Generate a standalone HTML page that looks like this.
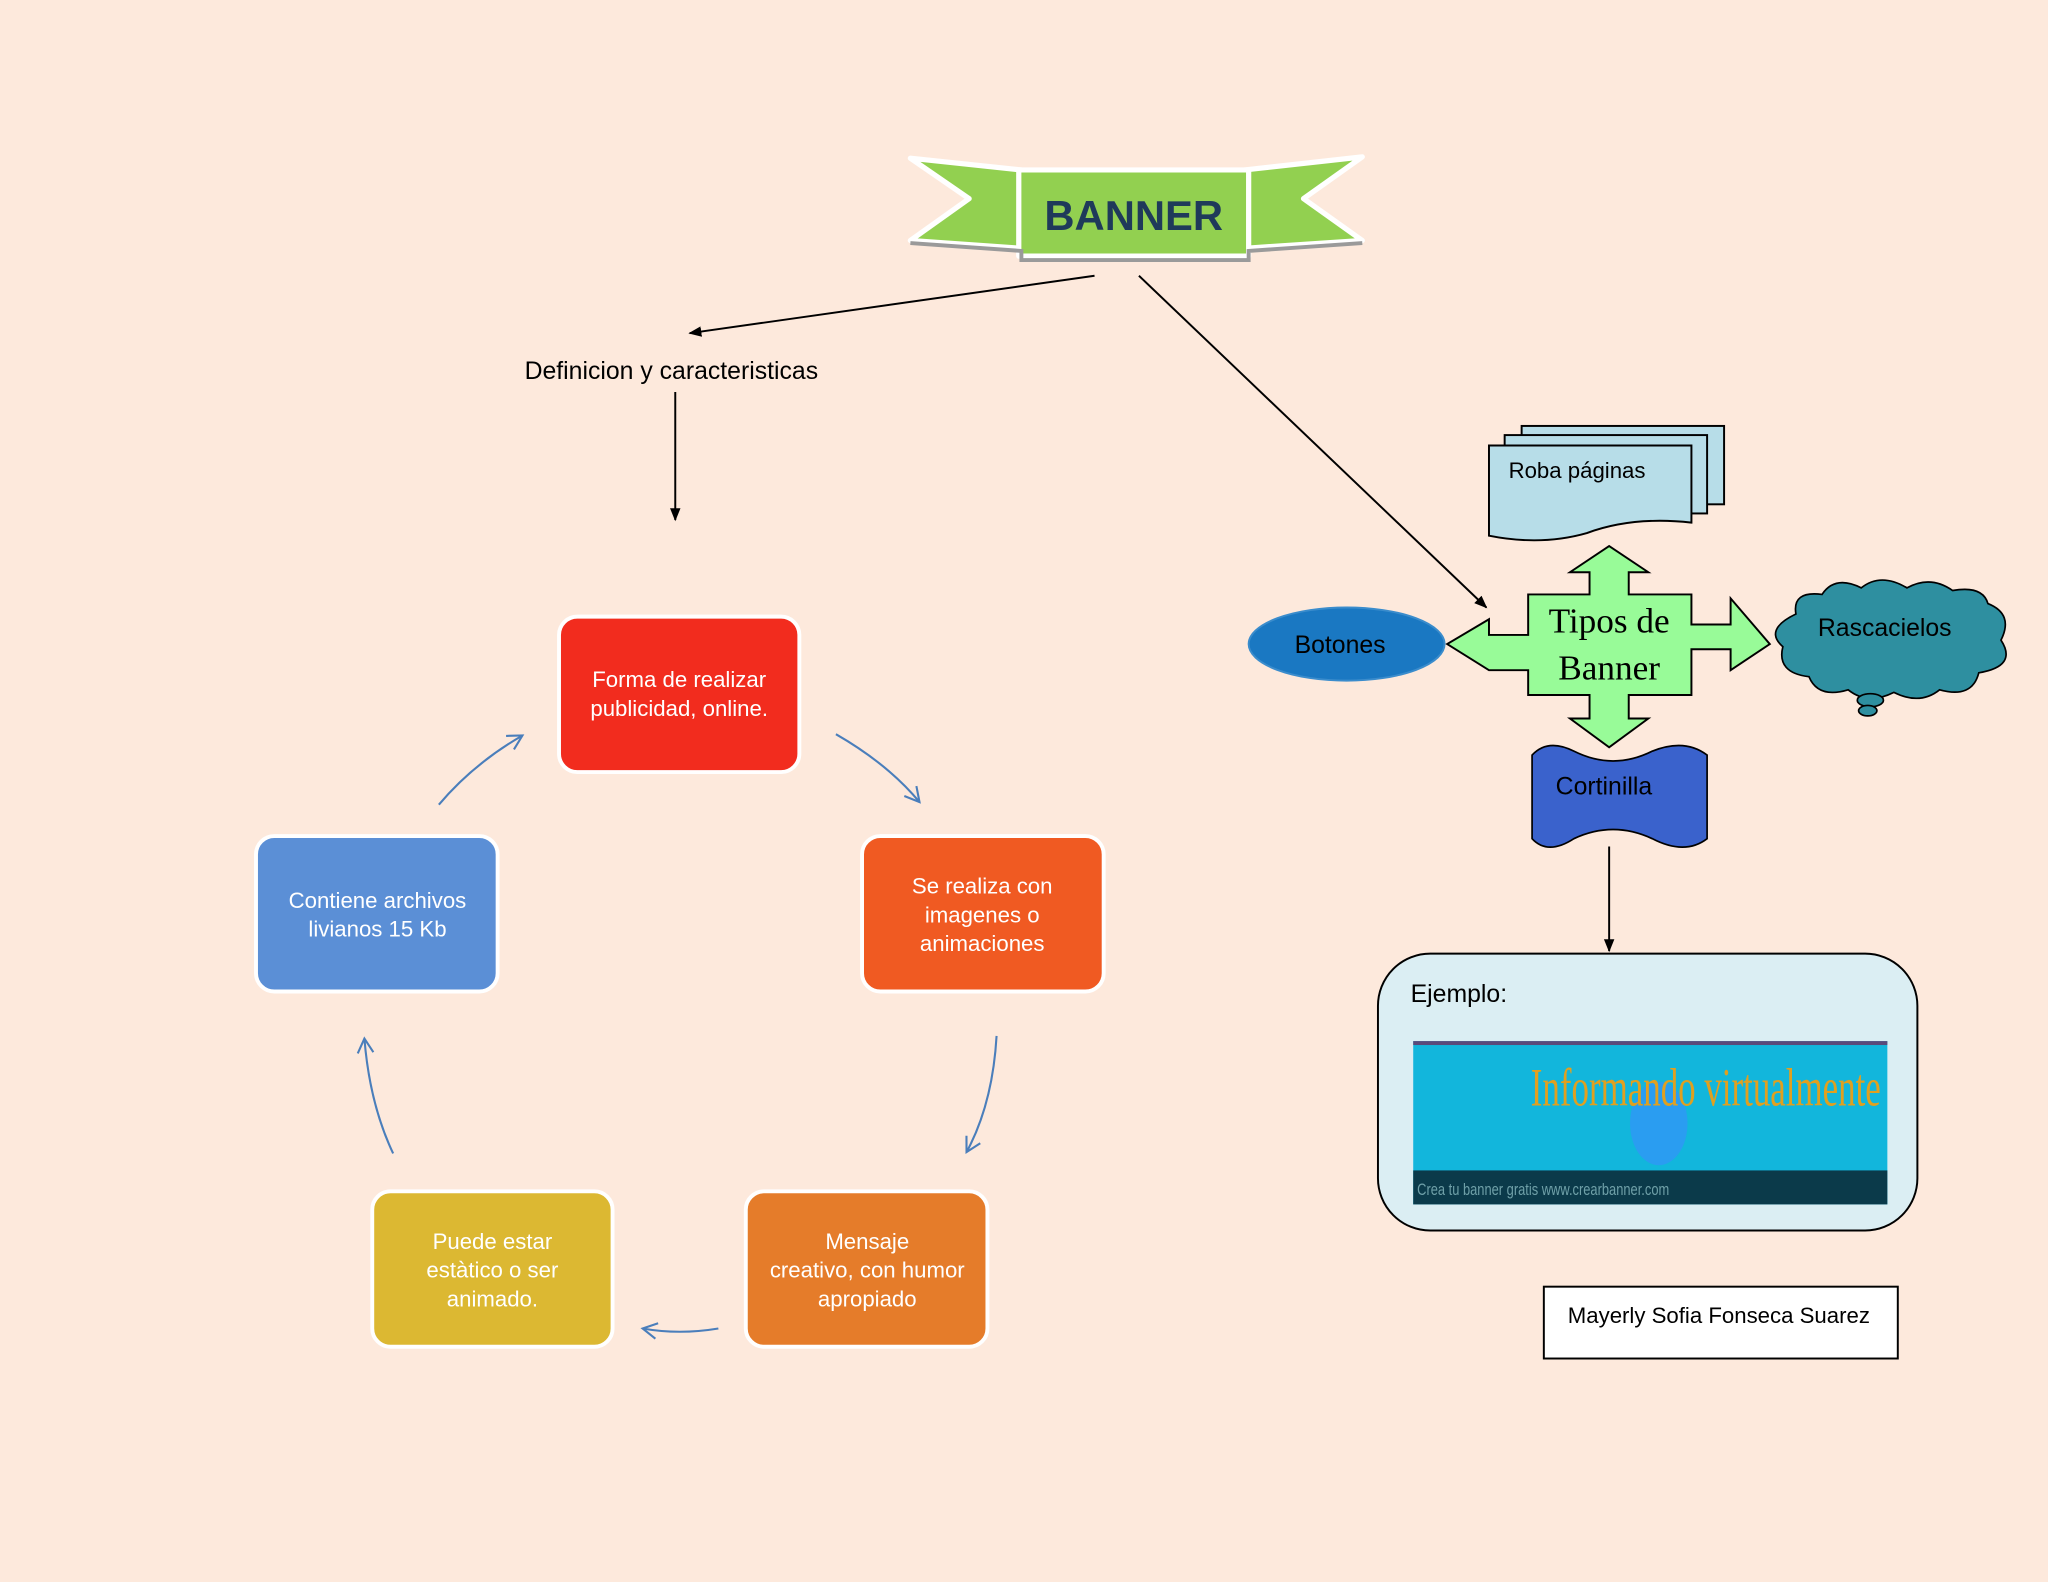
<!DOCTYPE html>
<html><head><meta charset="utf-8"><style>
html,body{margin:0;padding:0;background:#fde9dc;}
svg{display:block}
text{font-family:"Liberation Sans",sans-serif}
</style></head><body>
<svg width="2048" height="1582" viewBox="0 0 1568 1211" xmlns="http://www.w3.org/2000/svg">
<defs>
<marker id="ah" markerWidth="10" markerHeight="10" refX="9" refY="5" orient="auto" markerUnits="userSpaceOnUse"><path d="M0,1 L10,5 L0,9 z" fill="#000"/></marker>
<marker id="bh" markerWidth="14" markerHeight="14" refX="12" refY="7" orient="auto" markerUnits="userSpaceOnUse"><path d="M1,1 L12,7 L1,13" fill="none" stroke="#4a7ebb" stroke-width="1.6"/></marker>
</defs>
<rect width="1568" height="1211" fill="#fde9dc"/>
<g stroke="#fff" stroke-width="4" stroke-linejoin="round">
<polygon points="697,121 782,130 782,190 697,184 742,152" fill="#92d050"/>
<polygon points="953,130 1043,120 998,152 1043,184 953,190" fill="#92d050"/>
<rect x="780" y="130" width="176" height="66" fill="#92d050"/>
</g>
<path d="M697,186 L782,192 L782,199 L956,199 L956,192 L1043,186" fill="none" stroke="#9a9a9a" stroke-width="3"/>
<text x="868" y="176" font-size="32" font-weight="bold" fill="#1f3a5a" text-anchor="middle">BANNER</text>
<line x1="838" y1="211" x2="528" y2="255" stroke="#000" stroke-width="1.5" marker-end="url(#ah)"/>
<line x1="872" y1="211" x2="1138" y2="465" stroke="#000" stroke-width="1.5" marker-end="url(#ah)"/>
<text x="514" y="290" font-size="19" text-anchor="middle" fill="#000">Definicion y caracteristicas</text>
<line x1="517" y1="300" x2="517" y2="398" stroke="#000" stroke-width="1.5" marker-end="url(#ah)"/>
<g stroke="#fff" stroke-width="3">
<rect x="428" y="472" width="184" height="119" rx="14" fill="#f22c1e"/>
<rect x="660" y="640" width="185" height="119" rx="14" fill="#f05a22"/>
<rect x="571" y="912" width="185" height="119" rx="14" fill="#e57c2a"/>
<rect x="285" y="912" width="184" height="119" rx="14" fill="#dcb832"/>
<rect x="196" y="640" width="185" height="119" rx="14" fill="#5b8fd6"/>
</g>
<g font-size="17" fill="#fff" text-anchor="middle">
<text x="520" y="526">Forma de realizar</text><text x="520" y="548">publicidad, online.</text>
<text x="752" y="684">Se realiza con</text><text x="752" y="706">imagenes o</text><text x="752" y="728">animaciones</text>
<text x="664" y="956">Mensaje</text><text x="664" y="978">creativo, con humor</text><text x="664" y="1000">apropiado</text>
<text x="377" y="956">Puede estar</text><text x="377" y="978">estàtico o ser</text><text x="377" y="1000">animado.</text>
<text x="289" y="695">Contiene archivos</text><text x="289" y="717">livianos 15 Kb</text>
</g>
<g fill="none" stroke="#4a7ebb" stroke-width="1.6">
<path d="M640,562 Q680,585 704,614" marker-end="url(#bh)"/>
<path d="M763,793 Q760,845 740,882" marker-end="url(#bh)"/>
<path d="M550,1017 Q520,1022 492,1017" marker-end="url(#bh)"/>
<path d="M301,883 Q283,845 279,795" marker-end="url(#bh)"/>
<path d="M336,616 Q362,585 400,563" marker-end="url(#bh)"/>
</g>
<g stroke="#000" stroke-width="1.5" fill="#b7dde8">
<rect x="1165" y="326" width="155" height="60"/>
<rect x="1152" y="333" width="155" height="60"/>
<path d="M1140,341 L1295,341 L1295,400 Q1250,395 1215,408 Q1180,418 1140,410 Z"/>
</g>
<text x="1155" y="366" font-size="17" fill="#000">Roba páginas</text>
<polygon points="1232,418 1262,438 1247,438 1247,455 1295,455 1295,478 1325,478 1325,458 1355,493 1325,513 1325,497 1295,497 1295,532 1247,532 1247,550 1262,550 1232,572 1202,550 1217,550 1217,532 1170,532 1170,513 1140,513 1140,513 1108,493 1140,474 1140,486 1170,486 1170,455 1217,455 1217,438 1202,438" fill="#98fb98" stroke="#000" stroke-width="1.5"/>
<text x="1232" y="484" font-size="27" text-anchor="middle" style="font-family:'Liberation Serif',serif" fill="#000">Tipos de</text>
<text x="1232" y="520" font-size="27" text-anchor="middle" style="font-family:'Liberation Serif',serif" fill="#000">Banner</text>
<ellipse cx="1031" cy="493" rx="75" ry="28" fill="#1a78c2" stroke="#3a8ccc" stroke-width="1.5"/>
<text x="1026" y="500" font-size="19" text-anchor="middle" fill="#000">Botones</text>
<g fill="#2e8fa0" stroke="#000" stroke-width="1.3">
<path d="M1375,470 Q1372,452 1395,455 Q1405,440 1425,450 Q1440,438 1460,450 Q1478,440 1495,452 Q1518,448 1522,462 Q1542,470 1532,490 Q1545,510 1515,515 Q1510,535 1485,528 Q1470,540 1450,530 Q1430,540 1415,528 Q1392,535 1385,518 Q1360,515 1365,495 Q1350,482 1375,470 Z"/>
<ellipse cx="1432" cy="536" rx="10" ry="5"/>
<ellipse cx="1430" cy="544" rx="7" ry="4"/>
</g>
<text x="1443" y="487" font-size="19" text-anchor="middle" fill="#000">Rascacielos</text>
<path d="M1173,578 Q1185,565 1205,575 Q1235,590 1265,575 Q1290,565 1307,578 L1307,642 Q1290,655 1265,642 Q1235,628 1205,642 Q1185,655 1173,642 Z" fill="#3a62cc" stroke="#000" stroke-width="1.3"/>
<text x="1228" y="608" font-size="19" text-anchor="middle" fill="#000">Cortinilla</text>
<line x1="1232" y1="648" x2="1232" y2="728" stroke="#000" stroke-width="1.5" marker-end="url(#ah)"/>
<rect x="1055" y="730" width="413" height="212" rx="40" fill="#dbeef3" stroke="#000" stroke-width="1.5"/>
<text x="1080" y="767" font-size="19" fill="#000">Ejemplo:</text>
<rect x="1082" y="797" width="363" height="125" fill="#12b6dc"/>
<rect x="1082" y="797" width="363" height="3" fill="#5a4a7a"/>
<ellipse cx="1270" cy="860" rx="22" ry="32" fill="#3a8cff" opacity="0.6"/>
<rect x="1082" y="896" width="363" height="26" fill="#0b3a4a"/>
<text x="1306" y="848" font-size="36" text-anchor="middle" fill="#e0a020" style="font-family:'Liberation Serif',serif" transform="scale(1,1.15) translate(0,-112)" textLength="268" lengthAdjust="spacingAndGlyphs">Informando virtualmente</text>
<text x="1085" y="915" font-size="13" fill="#6fa0a8" textLength="193" lengthAdjust="spacingAndGlyphs">Crea tu banner gratis www.crearbanner.com</text>
<rect x="1182" y="985" width="271" height="55" fill="#fff" stroke="#000" stroke-width="1.5"/>
<text x="1316" y="1013" font-size="17" text-anchor="middle" fill="#000">Mayerly Sofia Fonseca Suarez</text>
</svg>
</body></html>
